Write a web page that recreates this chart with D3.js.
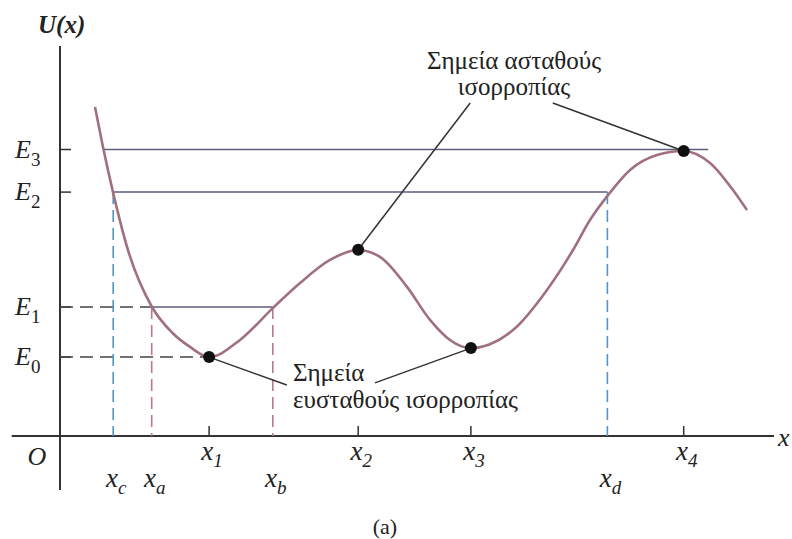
<!DOCTYPE html>
<html>
<head>
<meta charset="utf-8">
<script src="https://cdn.jsdelivr.net/npm/d3@7"></script>
<style>
  body { margin: 0; background: #fff; }
</style>
</head>
<body>
<div id="chart"></div>
<script>
// potential energy curve U(x) (x: 0..100, U: 0..100)
const curveX = [5, 6.14, 7.57, 9.71, 13.14, 16, 18.57, 21.29, 25.71, 30.43, 34.29, 38.57, 42.57, 45.71, 49.57, 52.86, 55.71, 58.57, 64.71, 69.57, 73.29, 75.71, 78.29, 81.43, 85.29, 89, 92.86, 96.14, 98.14];
const curveU = [109.7, 96.3, 81.3, 62, 43, 34.5, 29.7, 26.3, 32, 42.7, 51, 58.7, 62, 59.7, 49.7, 38.7, 32, 29.3, 35.3, 48.7, 62, 72, 80.3, 88.7, 93.7, 95, 91, 82, 75.3];

// energy levels
const levelNames = ["E0", "E1", "E2", "E3"];
const levelU = [26.3, 43, 81.3, 95.5];

// equilibrium points
const eqNames = ["x1", "x2", "x3", "x4"];
const eqX = [21.3, 42.6, 58.7, 89.1];
const eqU = [26.3, 62.1, 29.3, 95];

// turning points
const turnNames = ["xc", "xa", "xb", "xd"];
const turnX = [7.6, 13.1, 30.4, 78.2];
const turnLevel = [2, 1, 1, 2];
const turnColour = ["#4f95cc", "#b27a93", "#b27a93", "#4f95cc"];

const width = 792, height = 539;
const serif = "'Liberation Serif', 'Times New Roman', 'DejaVu Serif', serif";

const x = d3.scaleLinear().domain([0, 100]).range([60, 760]);
const y = d3.scaleLinear().domain([0, 100]).range([436, 136]);

const svg = d3.select("#chart").append("svg")
  .attr("width", width)
  .attr("height", height)
  .attr("font-family", serif)
  .style("font-family", serif);

// axes
svg.append("line")
  .attr("x1", x(-6.9)).attr("x2", x(102))
  .attr("y1", y(0)).attr("y2", y(0))
  .attr("stroke", "#333").attr("stroke-width", 2);
svg.append("line")
  .attr("x1", x(0)).attr("x2", x(0))
  .attr("y1", y(-18)).attr("y2", y(130))
  .attr("stroke", "#333").attr("stroke-width", 2);

// y ticks + labels
levelU.forEach((u, i) => {
  svg.append("line")
    .attr("x1", x(0)).attr("x2", x(0) + 11)
    .attr("y1", y(u)).attr("y2", y(u))
    .attr("stroke", "#333").attr("stroke-width", 1.5);
  const t = svg.append("text")
    .attr("x", 15).attr("y", y(u) + 8)
    .attr("font-size", 26)
    .attr("fill", "#222");
  t.append("tspan").attr("font-style", "italic").text("E");
  t.append("tspan").attr("dy", 8).attr("font-size", 19).text(levelNames[i].slice(1));
});

// dashed E0 / E1 lines from the axis
svg.append("line")
  .attr("x1", x(0)).attr("x2", x(eqX[0]))
  .attr("y1", y(levelU[0])).attr("y2", y(levelU[0]))
  .attr("stroke", "#444").attr("stroke-width", 1.5)
  .attr("stroke-dasharray", "13,7");
svg.append("line")
  .attr("x1", x(0)).attr("x2", x(turnX[1]))
  .attr("y1", y(levelU[1])).attr("y2", y(levelU[1]))
  .attr("stroke", "#444").attr("stroke-width", 1.5)
  .attr("stroke-dasharray", "13,7");

// solid energy lines
const solid = [
  { u: levelU[1], from: turnX[1], to: turnX[2] },
  { u: levelU[2], from: turnX[0], to: turnX[3] },
  { u: levelU[3], from: curveX[1], to: 92.6 }
];
svg.selectAll(".level")
  .data(solid)
  .enter().append("line")
  .attr("class", "level")
  .attr("x1", d => x(d.from)).attr("x2", d => x(d.to))
  .attr("y1", d => y(d.u)).attr("y2", d => y(d.u))
  .attr("stroke", "#5c5e7c").attr("stroke-width", 1.5);

// vertical dashed lines at turning points
turnX.forEach((tx, i) => {
  svg.append("line")
    .attr("x1", x(tx)).attr("x2", x(tx))
    .attr("y1", y(levelU[turnLevel[i]])).attr("y2", y(0))
    .attr("stroke", turnColour[i]).attr("stroke-width", 1.6)
    .attr("stroke-dasharray", "12,6");
});

// curve
const pts = curveX.map((d, i) => [d, curveU[i]]);
svg.append("path")
  .datum(pts)
  .attr("fill", "none")
  .attr("stroke", "#a0707e")
  .attr("stroke-width", 2.6)
  .attr("d", d3.line().x(d => x(d[0])).y(d => y(d[1])).curve(d3.curveMonotoneX));

// x ticks at equilibrium points
eqX.forEach(ex => {
  svg.append("line")
    .attr("x1", x(ex)).attr("x2", x(ex))
    .attr("y1", y(0)).attr("y2", y(0) - 10)
    .attr("stroke", "#333").attr("stroke-width", 1.5);
});

// leader lines
const leaders = [
  { from: [eqX[0], eqU[0]], to: [32.4, 17] },
  { from: [eqX[2], eqU[2]], to: [45, 17.7] },
  { from: [eqX[1], eqU[1]], to: [58.6, 111] },
  { from: [eqX[3], eqU[3]], to: [70.4, 111] }
];
svg.selectAll(".leader")
  .data(leaders)
  .enter().append("line")
  .attr("class", "leader")
  .attr("x1", d => x(d.from[0])).attr("y1", d => y(d.from[1]))
  .attr("x2", d => x(d.to[0])).attr("y2", d => y(d.to[1]))
  .attr("stroke", "#333").attr("stroke-width", 1.5);

// dots
svg.selectAll(".dot")
  .data(eqX)
  .enter().append("circle")
  .attr("class", "dot")
  .attr("cx", d => x(d))
  .attr("cy", (d, i) => y(eqU[i]))
  .attr("r", 6)
  .attr("fill", "#111");

// x labels
function xLabel(px, py, name) {
  const t = svg.append("text")
    .attr("x", px).attr("y", py)
    .attr("text-anchor", "middle")
    .attr("font-size", 27)
    .attr("fill", "#222");
  t.append("tspan").attr("font-style", "italic").text("x");
  t.append("tspan").attr("font-style", "italic").attr("dy", 7).attr("font-size", 19).text(name.slice(1));
}
eqX.forEach((ex, i) => xLabel(x(ex) + 3, 460, eqNames[i]));
turnX.forEach((tx, i) => xLabel(x(tx) + 3, 487, turnNames[i]));

// axis labels
svg.append("text").attr("font-style", "italic").attr("fill", "#222")
  .attr("x", 37).attr("y", 465).attr("font-size", 26).attr("text-anchor", "middle").text("O");
svg.append("text").attr("font-style", "italic").attr("fill", "#222")
  .attr("x", 778).attr("y", 446).attr("font-size", 26).text("x");
svg.append("text").attr("fill", "#222")
  .attr("x", 38).attr("y", 33).attr("font-size", 25)
  .attr("font-style", "italic").attr("font-weight", "bold").text("U(x)");

// annotations
svg.append("text").attr("x", 514).attr("y", 69).attr("font-size", 25).attr("fill", "#222")
  .attr("text-anchor", "middle").text("Σημεία ασταθούς");
svg.append("text").attr("x", 514).attr("y", 95).attr("font-size", 25).attr("fill", "#222")
  .attr("text-anchor", "middle").text("ισορροπίας");
svg.append("text").attr("x", 293).attr("y", 381).attr("font-size", 25).attr("fill", "#222").text("Σημεία");
svg.append("text").attr("x", 293).attr("y", 408).attr("font-size", 25).attr("fill", "#222").text("ευσταθούς ισορροπίας");

svg.append("text").attr("x", 385).attr("y", 534).attr("font-size", 22).attr("fill", "#222")
  .attr("text-anchor", "middle").text("(a)");
</script>
</body>
</html>
